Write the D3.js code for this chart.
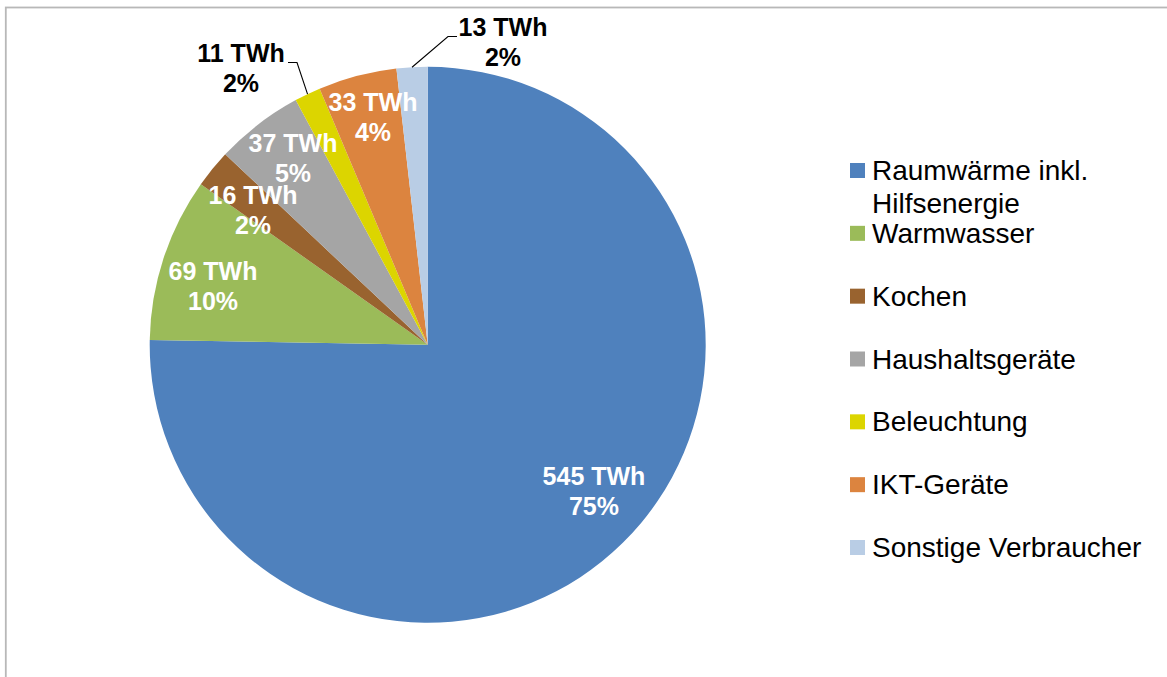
<!DOCTYPE html>
<html>
<head>
<meta charset="utf-8">
<script src="https://cdn.jsdelivr.net/npm/d3@7"></script>
<style>
  html, body { margin: 0; padding: 0; background: #fff; }
  svg { display: block; font-family: "Liberation Sans", Arial, sans-serif; }
</style>
</head>
<body>
<svg id="chart" width="1167" height="677"></svg>
<script>
// Endenergieverbrauch privater Haushalte nach Anwendungsbereich
const categories = [
  "Raumwärme inkl. Hilfsenergie",
  "Warmwasser",
  "Kochen",
  "Haushaltsgeräte",
  "Beleuchtung",
  "IKT-Geräte",
  "Sonstige Verbraucher"
];
const valuesTWh = [545, 69, 16, 37, 11, 33, 13];
const percentLabels = ["75%", "10%", "2%", "5%", "2%", "4%", "2%"];
const colors = ["#4f81bd", "#9bbb59", "#99632f", "#a5a5a5", "#dcd500", "#dc843f", "#b9cde5"];

// Label placement per slice (centre x, first baseline); small slices are
// labelled outside the pie with a leader line ending at an elbow
const labelLayout = [
  { x: 594, y: 485 },
  { x: 213, y: 280 },
  { x: 253, y: 204 },
  { x: 293, y: 152 },
  { x: 241, y: 62, outside: true, elbowX: 297, lineEndX: 288 },
  { x: 373, y: 111 },
  { x: 503, y: 36, outside: true, elbowX: 448, lineEndX: 457 }
];

const svg = d3.select("#chart");
const W = 1167, H = 677;

// Chart frame
svg.append("rect")
  .attr("x", 5.8).attr("y", 7.5)
  .attr("width", W + 10).attr("height", H + 10)
  .attr("fill", "none")
  .attr("stroke", "#b8b8b8")
  .attr("stroke-width", 1.8);

const cx = 427.7, cy = 344.8, R = 278;

const pie = d3.pie().sort(null).value(d => d.value);
const data = categories.map((c, i) => ({ name: c, value: valuesTWh[i], pct: percentLabels[i], color: colors[i], i }));
const arcs = pie(data);

const arc = d3.arc().innerRadius(0).outerRadius(R);
const edgeArc = d3.arc().innerRadius(R).outerRadius(R);
const g = svg.append("g").attr("transform", `translate(${cx},${cy})`);

g.selectAll("path.slice")
  .data(arcs)
  .join("path")
  .attr("class", "slice")
  .attr("d", arc)
  .attr("fill", d => d.data.color);

// Data labels
const fs = 25, lh = 30;

arcs.forEach(d => {
  const o = labelLayout[d.data.i];
  const x = o.x - cx, y = o.y - cy;
  const fill = o.outside ? "#000" : "#fff";
  if (o.outside) {
    const edge = edgeArc.centroid(d);
    g.append("polyline")
      .attr("points", [[edge[0], edge[1]], [o.elbowX - cx, y + 0.5], [o.lineEndX - cx, y + 0.5]].map(p => p.join(",")).join(" "))
      .attr("fill", "none")
      .attr("stroke", "#000")
      .attr("stroke-width", 1.1);
  }
  const t = g.append("text")
    .attr("x", x).attr("y", y)
    .attr("text-anchor", "middle")
    .attr("font-weight", "bold")
    .attr("font-size", fs)
    .attr("fill", fill);
  t.append("tspan").attr("x", x).attr("dy", 0).text(`${d.data.value} TWh`);
  t.append("tspan").attr("x", x).attr("dy", lh).text(d.data.pct);
});

// Legend
const legendY = d3.scalePoint().domain(d3.range(categories.length)).range([180, 557]);
const legend = svg.append("g");
const legendFont = 28, wrapWidth = 290;

data.forEach(d => {
  const y = legendY(d.i);
  legend.append("rect")
    .attr("x", 850).attr("y", y - 17)
    .attr("width", 15).attr("height", 15)
    .attr("fill", d.color);
  const text = legend.append("text")
    .attr("x", 872).attr("y", y)
    .attr("font-size", legendFont)
    .attr("fill", "#000");
  // wrap long names onto several lines
  const words = d.name.split(" ");
  let line = [];
  let tspan = text.append("tspan").attr("x", 872).attr("dy", 0);
  words.forEach(w => {
    line.push(w);
    tspan.text(line.join(" "));
    if (tspan.node().getComputedTextLength() > wrapWidth && line.length > 1) {
      line.pop();
      tspan.text(line.join(" "));
      line = [w];
      tspan = text.append("tspan").attr("x", 872).attr("dy", 33).text(w);
    }
  });
});
</script>
</body>
</html>
